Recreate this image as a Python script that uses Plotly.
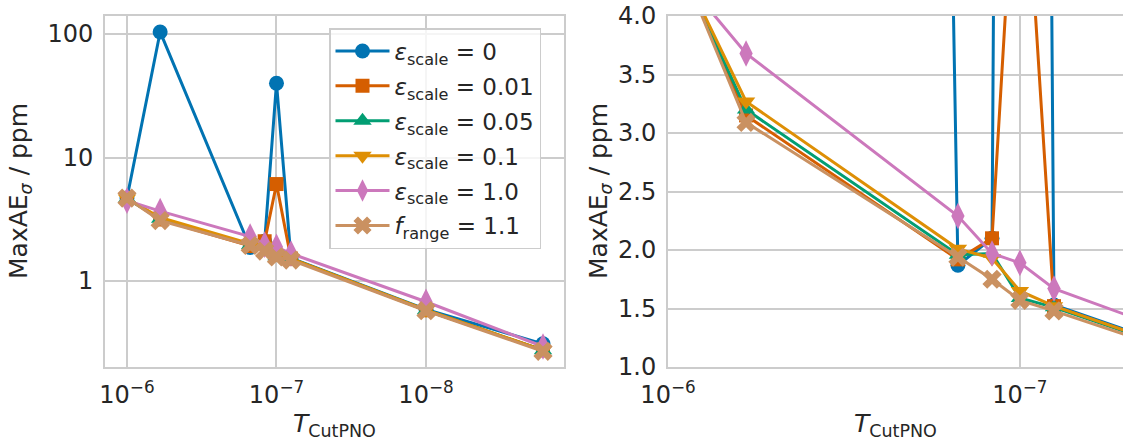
import plotly.graph_objects as go

# PNO truncation thresholds (x) and max abs. errors in ppm for each setting
t_cutpno = [1e-6, 6e-7, 1.5e-7, 1.2e-7, 1e-7, 8e-8, 1e-8, 1.65e-9]

eps_0 = [4.7, 104, 1.87, 2.10, 40, 1.53, 0.59, 0.31]
eps_001 = [4.7, 3.15, 1.92, 2.10, 6.1, 1.52, 0.58, 0.275]
eps_005 = [4.65, 3.20, 1.96, 1.97, 1.59, 1.51, 0.58, 0.275]
eps_01 = [4.65, 3.27, 2.01, 1.93, 1.65, 1.52, 0.585, 0.275]
eps_10 = [4.48, 3.68, 2.29, 1.97, 1.89, 1.67, 0.68, 0.295]
frange_11 = [4.7, 3.09, 1.94, 1.75, 1.57, 1.48, 0.575, 0.27]

series = [
    ("<i>ε</i><sub>scale</sub> = 0", eps_0, "#0173B2", "circle", 15),
    ("<i>ε</i><sub>scale</sub> = 0.01", eps_001, "#D55E00", "square", 14),
    ("<i>ε</i><sub>scale</sub> = 0.05", eps_005, "#029E73", "triangle-up", 16),
    ("<i>ε</i><sub>scale</sub> = 0.1", eps_01, "#DE8F05", "triangle-down", 16),
    ("<i>ε</i><sub>scale</sub> = 1.0", eps_10, "#CC78BC", "diamond-tall", 19),
    ("<i>f</i><sub>range</sub> = 1.1", frange_11, "#CA9161", "x", 17),
]

W, H = 1123, 441
FONT = "DejaVu Sans"
TXT = "#262626"
GRID = "#cccccc"

fig = go.Figure()
for i, (name, vals, color, sym, msize) in enumerate(series):
    for xa, ya, show in (("x", "y", True), ("x2", "y2", False)):
        fig.add_trace(go.Scatter(
            x=t_cutpno, y=vals, name=name, legendgroup=f"g{i}",
            showlegend=show, mode="lines+markers",
            line=dict(color=color, width=3),
            marker=dict(symbol=sym, size=msize, color=color, line=dict(width=0)),
            xaxis=xa, yaxis=ya,
        ))

x_ticks = [1e-6, 1e-7, 1e-8]
x_text = ["10<sup>−6</sup>", "10<sup>−7</sup>", "10<sup>−8</sup>"]

common_axis = dict(
    showgrid=True, gridcolor=GRID, gridwidth=1.5,
    showline=True, linecolor=GRID, linewidth=2, mirror=True,
    ticks="", zeroline=False,
    tickfont=dict(family=FONT, size=24, color=TXT),
    automargin=False,
)

ydom = [1 - 367 / H, 1 - 16 / H]

fig.update_layout(
    width=W, height=H,
    margin=dict(l=0, r=0, t=0, b=0),
    paper_bgcolor="white", plot_bgcolor="white",
    font=dict(family=FONT, size=24, color=TXT),
    xaxis=dict(type="log", domain=[105 / W, 564 / W], range=[-5.853, -8.923],
               tickvals=x_ticks, ticktext=x_text, anchor="y",
               ticklabelstandoff=5, **common_axis),
    yaxis=dict(type="log", domain=ydom, range=[-0.696, 2.146],
               tickvals=[1, 10, 100], ticktext=["1", "10", "100"], anchor="x",
               ticklabelstandoff=5, **common_axis),
    xaxis2=dict(type="log", domain=[668 / W, 1.0], range=[-6.0, -7.293],
                tickvals=x_ticks, ticktext=x_text, anchor="y2",
                ticklabelstandoff=5, **common_axis),
    yaxis2=dict(domain=ydom, range=[1.0, 4.0], dtick=0.5, tickformat=".1f",
                anchor="x2", ticklabelstandoff=5, **common_axis),
    legend=dict(
        x=329 / W, y=1 - 28 / H, xanchor="left", yanchor="top",
        bgcolor="rgba(255,255,255,0.8)", bordercolor=GRID, borderwidth=1.5,
        font=dict(family=FONT, size=23, color=TXT),
        itemwidth=54, tracegroupgap=2,
    ),
    showlegend=True,
)

ylabel = "MaxAE<sub><i>σ</i></sub> / ppm"
xlabel = "<i>T</i><sub>CutPNO</sub>"
for xc in (20, 600):
    fig.add_annotation(text=ylabel, x=xc / W, y=1 - 191 / H, xref="paper", yref="paper",
                       textangle=-90, showarrow=False,
                       font=dict(family=FONT, size=25, color=TXT),
                       xanchor="center", yanchor="middle")
for xc in (334.5, 895):
    fig.add_annotation(text=xlabel, x=xc / W, y=1 - 425 / H, xref="paper", yref="paper",
                       showarrow=False, font=dict(family=FONT, size=25, color=TXT),
                       xanchor="center", yanchor="middle")

fig.write_html("out.html")
